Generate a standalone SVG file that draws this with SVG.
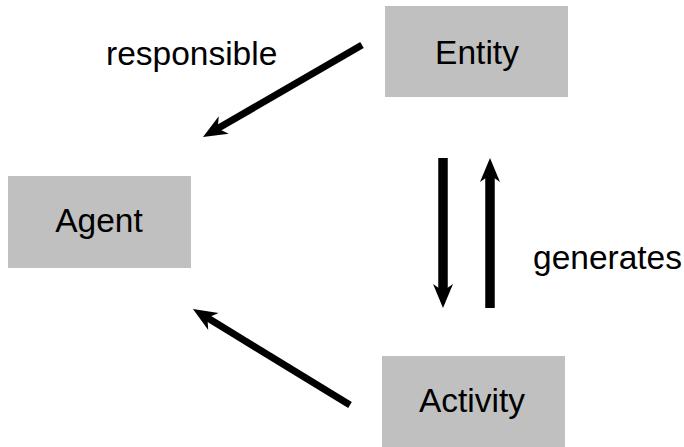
<svg xmlns="http://www.w3.org/2000/svg" width="684" height="447" viewBox="0 0 684 447">
<style>
.box{fill:#c0c0c0}
.t{font-family:"Liberation Sans",Arial,sans-serif;font-size:33.5px;fill:#000}
.c{stroke:#000;fill:none}
</style>
<defs>
<marker id="ah" markerUnits="userSpaceOnUse" viewBox="-26 -12 28 24" markerWidth="28" markerHeight="24" refX="-14" refY="0" orient="auto">
<path d="M0,0 L-24,-10 L-17,0 L-24,10 Z" fill="#000"/>
</marker>
</defs>
<rect width="684" height="447" fill="#fff"/>
<g id="entity"><rect class="box" x="385" y="6" width="183" height="91"/><text class="t" x="477" y="64" text-anchor="middle">Entity</text></g>
<g id="agent"><rect class="box" x="8" y="176" width="183" height="92"/><text class="t" x="99" y="232" text-anchor="middle">Agent</text></g>
<g id="activity"><rect class="box" x="382" y="356" width="183" height="91"/><text class="t" x="472" y="412" text-anchor="middle">Activity</text></g>
<g id="connectors">
<line class="c" stroke-width="7" x1="362" y1="45" x2="215.1" y2="130" marker-end="url(#ah)"/>
<line class="c" stroke-width="9.5" x1="443" y1="158" x2="443" y2="294" marker-end="url(#ah)"/>
<line class="c" stroke-width="9.5" x1="490" y1="308" x2="490" y2="172" marker-end="url(#ah)"/>
<line class="c" stroke-width="7" x1="350" y1="405" x2="204.9" y2="316.3" marker-end="url(#ah)"/>
<text class="t" x="106" y="65">responsible</text>
<text class="t" x="533" y="269">generates</text>
</g>
</svg>
